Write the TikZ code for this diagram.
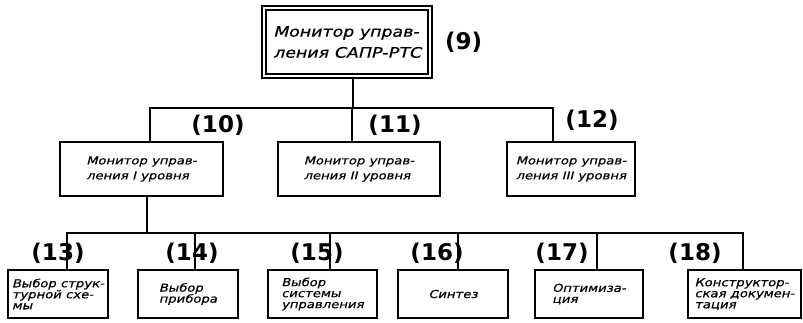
\documentclass[tikz,border=0pt]{standalone}
\usepackage{fontspec}
\newfontfamily\handfont[FakeSlant=0.25,FakeStretch=1.2,FakeBold=0.6]{DejaVu Sans}
\newfontfamily\numfont{DejaVu Sans}
\usetikzlibrary{positioning,calc}

\begin{document}
\begin{tikzpicture}[
  x=1pt, y=-1pt, line width=2.4pt,
  box/.style={rectangle, draw, align=left, inner sep=3pt, minimum height=54, font=\handfont\fontsize{11}{15}\selectfont},
  topbox/.style={box, double, line width=2pt, double distance=2pt, minimum width=166, minimum height=68, font=\handfont\fontsize{14.5}{21}\selectfont},
  small/.style={box, minimum height=48, inner sep=2pt, font=\handfont\fontsize{11}{11}\selectfont},
  num/.style={font=\numfont\bfseries\fontsize{23}{23}\selectfont, inner sep=0pt}
]
\useasboundingbox (0,0) rectangle (803,322);

\node[topbox] (monitor) at (347,42) {Монитор управ-\\ления САПР-РТС};
\node[num, right=13pt of monitor] (n9) {(9)};

\node[box, minimum width=163] (levelOne) at (141.5,169) {Монитор управ-\\ления I уровня};
\node[box, minimum width=162] (levelTwo) at (359,169) {Монитор управ-\\ления II уровня};
\node[box, minimum width=128] (levelThree) at (571,169) {Монитор управ-\\ления III уровня};

\node[small, minimum width=100] (structure) at (58,294) {Выбор струк-\\турной схе-\\мы};
\node[small, minimum width=100] (device) at (188,294) {Выбор\\прибора};
\node[small, minimum width=109] (control) at (322.5,294) {Выбор\\системы\\управления};
\node[small, minimum width=110] (synthesis) at (453,294) {Синтез};
\node[small, minimum width=108] (optimization) at (589,294) {Оптимиза-\\ция};
\node[small, minimum width=113] (documents) at (744.5,294) {Конструктор-\\ская докумен-\\тация};

\node[num] (n10) at (218,125) {(10)};
\node[num] (n11) at (395,125) {(11)};
\node[num] (n12) at (592,120) {(12)};
\node[num] (n13) at (58,253) {(13)};
\node[num] (n14) at (192,253) {(14)};
\node[num] (n15) at (317,253) {(15)};
\node[num] (n16) at (437,253) {(16)};
\node[num] (n17) at (562,253) {(17)};
\node[num] (n18) at (695,253) {(18)};

\coordinate (busTop) at (0,108);
\coordinate (busLow) at (0,233);

\draw ([xshift=6]monitor.south) -- ([xshift=6]monitor.south |- busTop);
\draw ([xshift=8.5]levelOne.north) -- ([xshift=8.5]levelOne.north |- busTop) -| ([xshift=-18]levelThree.north);
\draw ([xshift=-7]levelTwo.north) -- ([xshift=-7]levelTwo.north |- busTop);

\draw ([xshift=5.5]levelOne.south) -- ([xshift=5.5]levelOne.south |- busLow);
\draw ([xshift=9]structure.north) -- ([xshift=9]structure.north |- busLow) -| ([xshift=-1.5]documents.north);
\foreach \n/\s in {device/7, control/7.5, synthesis/5, optimization/8}
  \draw ([xshift=\s]\n.north) -- ([xshift=\s]\n.north |- busLow);
\end{tikzpicture}
\end{document}
